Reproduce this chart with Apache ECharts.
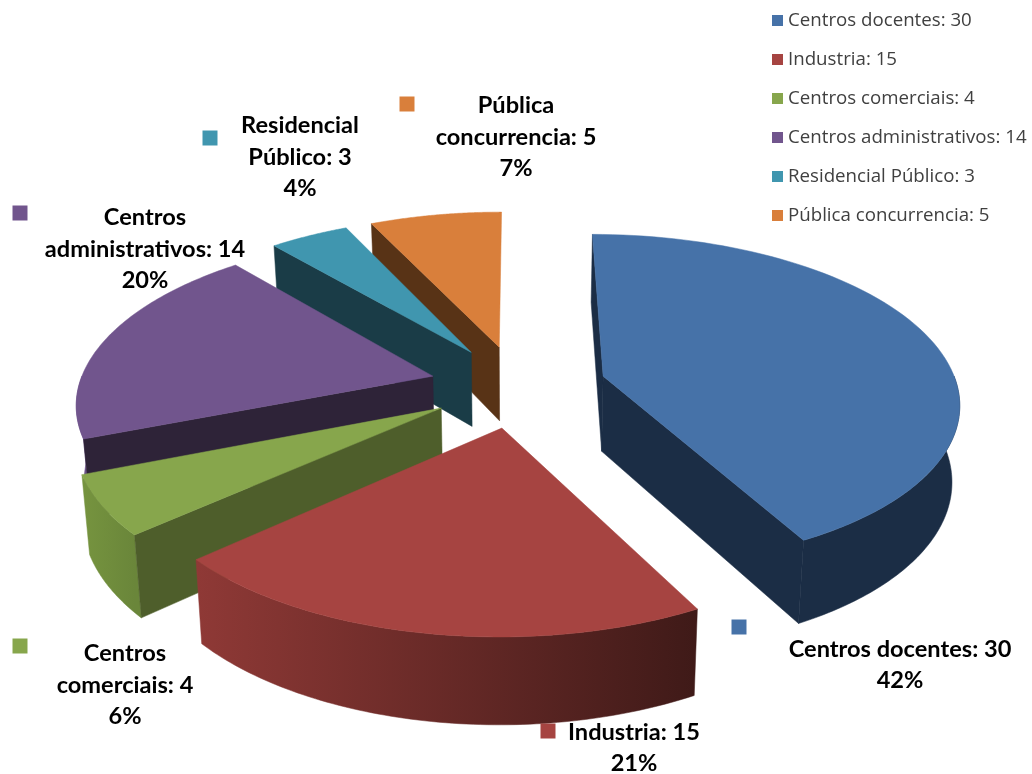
<!DOCTYPE html>
<html>
<head>
<meta charset="utf-8">
<style>html,body{margin:0;padding:0;background:#fff}#c{width:1032px;height:774px}</style>
<script src="https://cdn.jsdelivr.net/npm/echarts@6/dist/echarts.min.js"></script>
</head>
<body>
<div id="c"></div>
<script>
const categories = ['Centros docentes','Industria','Centros comerciais','Centros administrativos','Residencial Público','Pública concurrencia'];
const values = [30,15,4,14,3,5];
const topColors = ['#4672A8','#A64441','#87A64C','#71558D','#4096AF','#D97F3B'];
const wallColors = ['#1B2D45','#6E2B28','#4E5E2B','#2E2338','#1A3C47','#583316'];
const arcLeft = ['#1B2D45','#8F3936','#76943F','#6A4F88','#1A3C47','#A86230'];
const arcRight = ['#1B2D45','#3F1A18','#6A863A','#6A4F88','#1A3C47','#A86230'];
const labelLines = [
  ['Centros docentes: 30','42%'],
  ['Industria: 15','21%'],
  ['Centros','comerciais: 4','6%'],
  ['Centros','administrativos: 14','20%'],
  ['Residencial','Público: 3','4%'],
  ['Pública','concurrencia: 5','7%']
];
const labelAnchors = [[900,665],[634,748],[125,685],[145,249],[300,157],[516,137]];
const keyAnchors = [[739,627],[548,731],[20,646],[20,213],[210,138],[407,104]];
const drawOrder = [5,4,0,3,2,1];

const G = {cx:518, cy:386, R:354, kR:165, p:0.145, explode:0.25, D:77, bottom:1.018, steps:80};
const total = values.reduce((a,b)=>a+b,0);
const starts = []; values.reduce((acc,v,i)=>{starts[i]=acc;return acc+v;},0);
const QUARTER = Math.PI/2, THREE_QUARTER = 3*Math.PI/2;

function project(u,v,down){
  const w = (1 - G.p*v) * (down ? G.bottom : 1);
  return [G.cx + G.R*u/w, G.cy + (G.kR*v + (down?G.D:0))/w];
}
function slice(i){
  const a0 = starts[i]/total*2*Math.PI, a1 = (starts[i]+values[i])/total*2*Math.PI, m=(a0+a1)/2;
  const ex = G.explode*Math.sin(m), ey = -G.explode*Math.cos(m);
  const arc = (from,to,down) => { const pts=[]; for(let s=0;s<=G.steps;s++){ const t=from+(to-from)*s/G.steps;
      pts.push(project(ex+Math.sin(t),ey-Math.cos(t),down)); } return pts; };
  const f0 = Math.max(a0,QUARTER), f1 = Math.min(a1,THREE_QUARTER);
  return {apexT:project(ex,ey,false),apexB:project(ex,ey,true),top:arc(a0,a1,false),bot:arc(a0,a1,true),
    frontTop: f1>f0 ? arc(f0,f1,false) : null, frontBot: f1>f0 ? arc(f0,f1,true) : null};
}
function poly(points,fill){
  return {type:'polygon',shape:{points},style:{fill,stroke:fill,lineWidth:0.5}};
}
function cross(a,b,c){ return (b[0]-a[0])*(c[1]-a[1])-(b[1]-a[1])*(c[0]-a[0]); }
function render(i){
  return function(){
    const s = slice(i), n = s.top.length-1, children = [];
    if(s.frontTop){
      const xs = s.frontTop.map(p=>p[0]);
      const grad = {type:'linear',x:Math.min(...xs),y:0,x2:Math.max(...xs),y2:0,global:true,
        colorStops:[{offset:0,color:arcLeft[i]},{offset:1,color:arcRight[i]}]};
      children.push(poly(s.frontTop.concat(s.frontBot.slice().reverse()),grad));
    }
    if(cross(s.apexT,s.top[0],s.apexB) < -500) children.push(poly([s.apexT,s.top[0],s.bot[0],s.apexB],wallColors[i]));
    if(cross(s.apexT,s.top[n],s.apexB) > 500) children.push(poly([s.apexT,s.top[n],s.bot[n],s.apexB],wallColors[i]));
    children.push(
      poly([s.apexT].concat(s.top),topColors[i]),
      {type:'rect',shape:{x:keyAnchors[i][0]-7.5,y:keyAnchors[i][1]-7.5,width:15,height:15},style:{fill:topColors[i]}},
      {type:'text',style:{x:labelAnchors[i][0],y:labelAnchors[i][1],text:labelLines[i].join('\n'),
        font:'bold 23.6px Lato',lineHeight:31.5,fill:'#000',textAlign:'center',textVerticalAlign:'middle'}}
    );
    return {type:'group',children};
  };
}
const chart = echarts.init(document.getElementById('c'),null,{renderer:'canvas'});
const names = categories.map((c,i)=>c+': '+values[i]);
chart.setOption({
  animation:false,
  backgroundColor:'#fff',
  legend:{orient:'vertical',left:767,top:6,icon:'rect',itemWidth:11,itemHeight:11,itemGap:20,
    data:names,selectedMode:false,
    textStyle:{fontFamily:'Open Sans',fontSize:18.7,color:'#404040'}},
  series:drawOrder.map(i=>({
    type:'custom',name:names[i],coordinateSystem:'none',silent:true,
    itemStyle:{color:topColors[i]},
    data:[values[i]],renderItem:render(i)
  }))
});
</script>
</body>
</html>
